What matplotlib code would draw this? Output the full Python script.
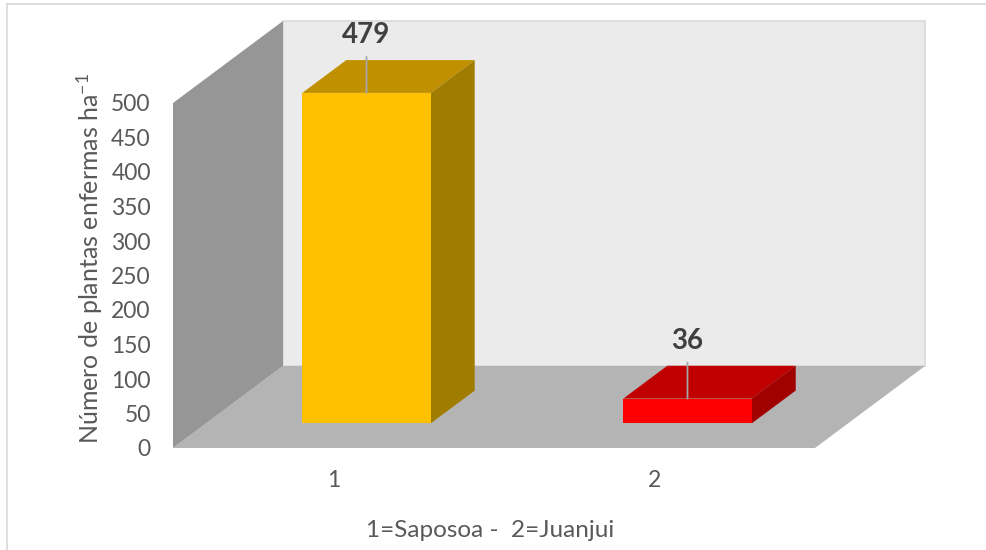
import matplotlib
matplotlib.use("Agg")
import matplotlib.pyplot as plt
from matplotlib.patches import Polygon
from matplotlib.lines import Line2D

plt.rcParams['font.family'] = ['Lato', 'DejaVu Sans']
plt.rcParams['mathtext.default'] = 'regular'

# ---- data ----
categories = ["1", "2"]
values = [479, 36]
value_labels = ["479", "36"]
y_ticks = [0, 50, 100, 150, 200, 250, 300, 350, 400, 450, 500]
y_label = "Número de plantas enfermas ha$^{-1}$"
x_label = "1=Saposoa -  2=Juanjui"

# ---- styles ----
front_cols = ["#FFC000", "#FF0000"]
top_cols = ["#C09000", "#C00000"]
side_cols = ["#A07D00", "#A00000"]
txt_col = "#595959"

W, H = 986, 550
fig = plt.figure(figsize=(W / 100, H / 100), dpi=100)
ax = fig.add_axes([173 / W, 1 - 448 / H, 642 / W, 345 / H])
ax.set_xlim(0.5, len(categories) + 0.5)
ax.set_ylim(0, 500)
for s in ax.spines.values():
    s.set_visible(False)
ax.patch.set_visible(False)

# depth of the 3D box in data units
Dx = 110 / 642 * len(categories)
Dy = 82 / 345 * 500
x0, x1 = 0.5, len(categories) + 0.5
ymax = 500

def poly(pts, fc, ec="none", lw=0, z=1):
    p = Polygon(pts, closed=True, fc=fc, ec=ec, lw=lw, zorder=z, clip_on=False)
    ax.add_patch(p)

# walls
poly([(x0 + Dx, Dy), (x1 + Dx, Dy), (x1 + Dx, ymax + Dy), (x0 + Dx, ymax + Dy)],
     "#EBEBEB", ec="#D9D9D9", lw=1.2, z=1)
poly([(x0, 0), (x1, 0), (x1 + Dx, Dy), (x0 + Dx, Dy)], "#B4B4B4", z=2)
poly([(x0, 0), (x0 + Dx, Dy), (x0 + Dx, ymax + Dy), (x0, ymax)], "#969696", z=2)

# bars
f0, f1 = 0.30, 0.70
bw = 0.40
for i, v in enumerate(values):
    c = i + 1
    xl = c - bw / 2 + f0 * Dx
    xr = c + bw / 2 + f0 * Dx
    yb = f0 * Dy
    yt = v + f0 * Dy
    ddx = (f1 - f0) * Dx
    ddy = (f1 - f0) * Dy
    poly([(xl, yt), (xr, yt), (xr + ddx, yt + ddy), (xl + ddx, yt + ddy)], top_cols[i], z=3)
    poly([(xr, yb), (xr + ddx, yb + ddy), (xr + ddx, yt + ddy), (xr, yt)], side_cols[i], z=3)
    poly([(xl, yb), (xr, yb), (xr, yt), (xl, yt)], front_cols[i], z=4)
    xc = (xl + xr) / 2
    ax.annotate("", xy=(xc, yt), xytext=(0, 36), textcoords="offset pixels",
                xycoords="data", annotation_clip=False,
                arrowprops=dict(arrowstyle="-", color="#A6A6A6", lw=1.3,
                                shrinkA=0, shrinkB=0), zorder=5)
    ax.annotate(value_labels[i], xy=(xc, yt), xytext=(0, 58), textcoords="offset pixels",
                ha="center", va="center", fontsize=20, fontweight="bold",
                color="#404040", zorder=6, annotation_clip=False)

ax.set_yticks(y_ticks)
ax.set_yticklabels([str(t) for t in y_ticks])
ax.set_xticks(range(1, len(categories) + 1))
ax.set_xticklabels(categories)
ax.tick_params(axis="both", length=0, labelsize=16.5, labelcolor=txt_col)
ax.tick_params(axis="y", pad=16)
ax.tick_params(axis="x", pad=16)

ax.set_ylabel(y_label, fontsize=18, color=txt_col)
ax.yaxis.set_label_coords(-0.106, 0.548)
ax.set_xlabel(x_label, fontsize=17.5, color=txt_col)
ax.xaxis.set_label_coords(0.494, -0.209)

# chart-area border (left and top visible)
fig.add_artist(Line2D([7 / W, 7 / W], [0, 1 - 4 / H], color="#D9D9D9", lw=1.2))
fig.add_artist(Line2D([7 / W, 1], [1 - 4 / H, 1 - 4 / H], color="#D9D9D9", lw=1.2))

fig.savefig("out.png", dpi=100)
